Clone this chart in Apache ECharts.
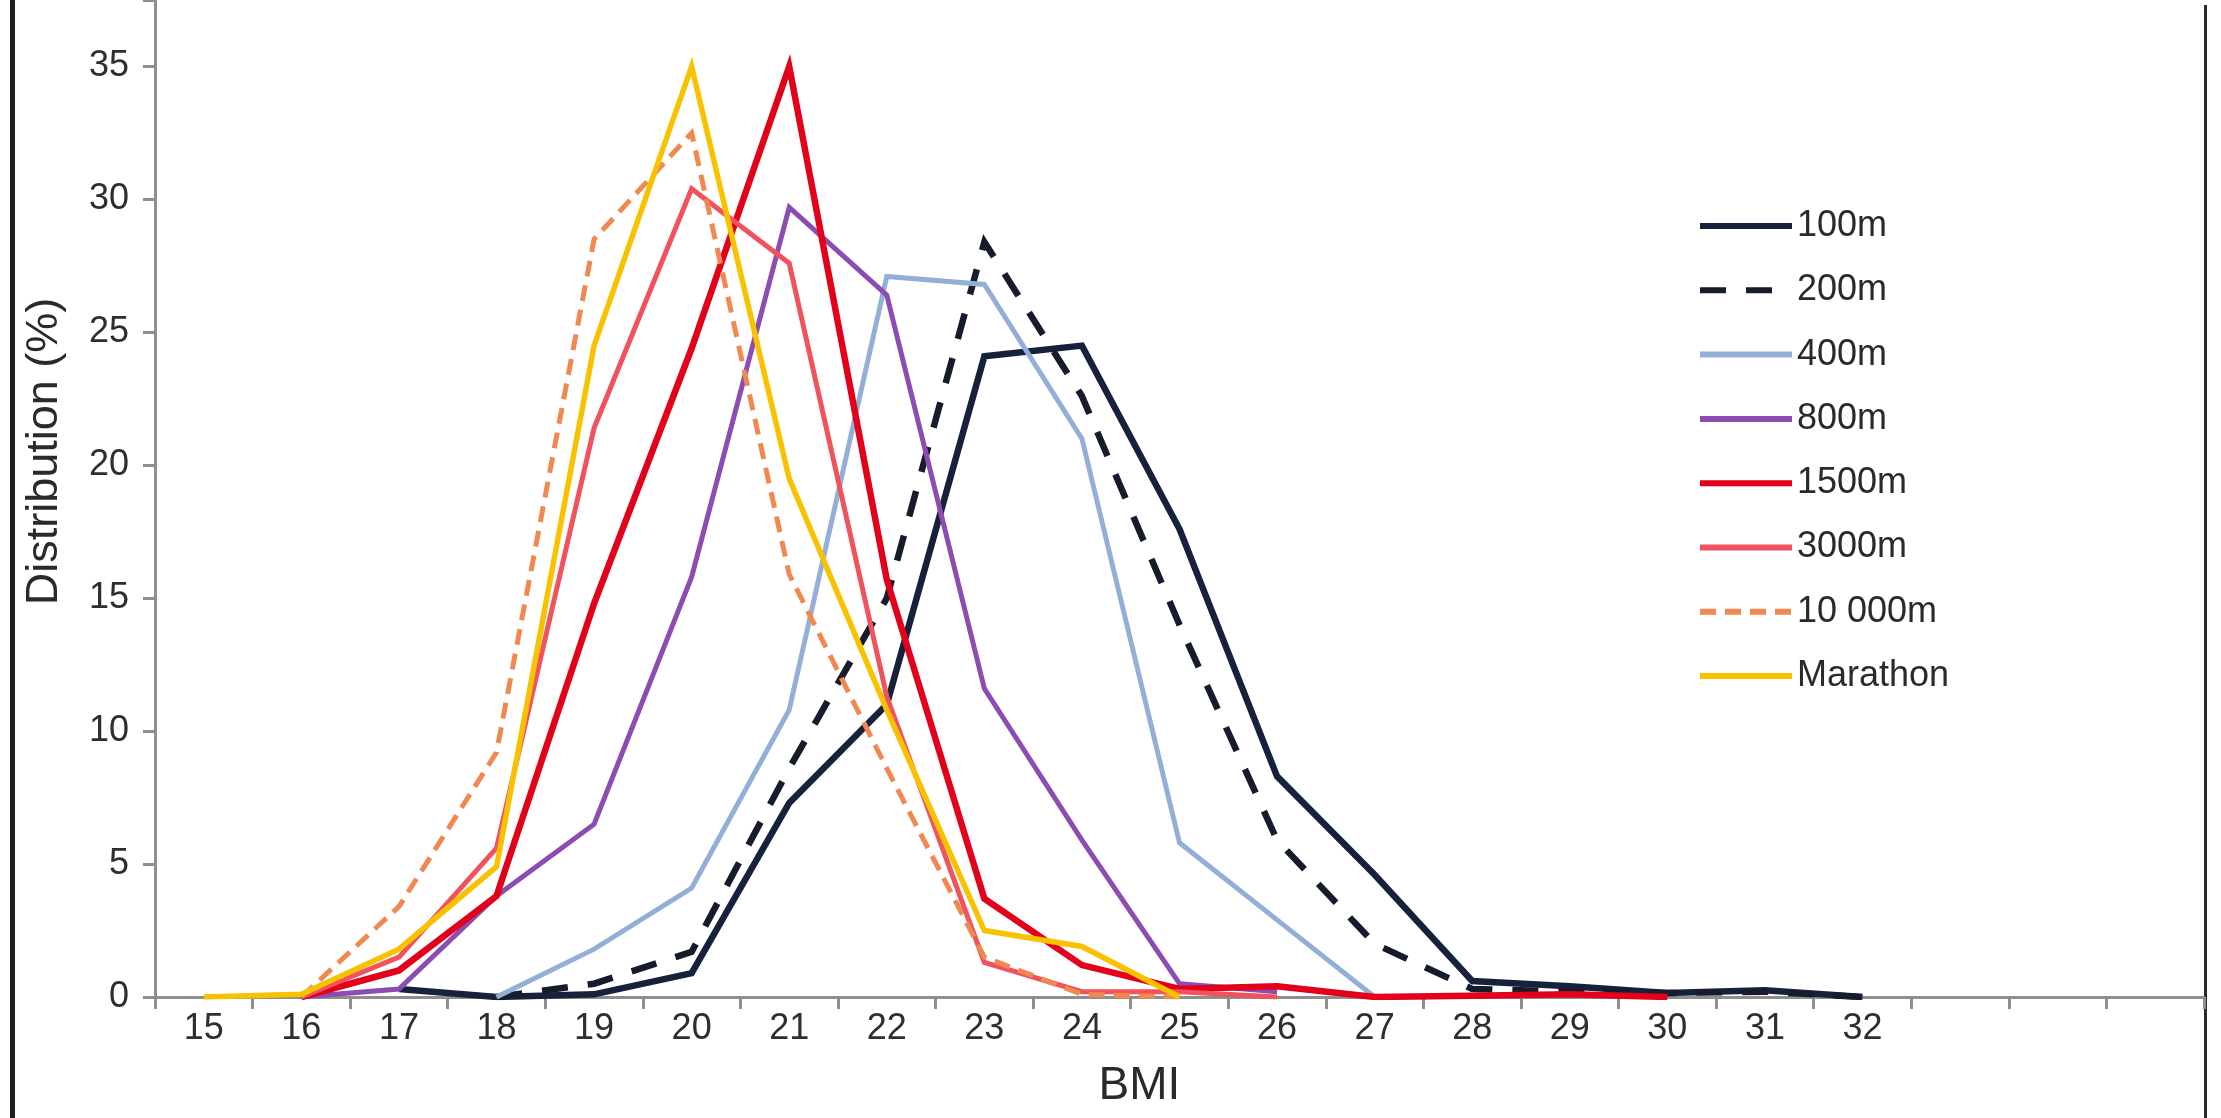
<!DOCTYPE html>
<html>
<head>
<meta charset="utf-8">
<title>BMI distribution by event</title>
<script src="https://cdn.jsdelivr.net/npm/echarts@6/dist/echarts.min.js"></script>
<style>
  html, body { margin: 0; padding: 0; background: #fff; }
  #main { width: 2221px; height: 1118px; }
</style>
</head>
<body>
<div id="main"></div>
<script>
// BMI categories (axis runs on to 35, only 15-32 are labelled)
const bmi = ['15', '16', '17', '18', '19', '20', '21', '22', '23', '24', '25', '26', '27', '28', '29', '30', '31', '32', '33', '34', '35'];
const bmiTickLabels = ['15', '16', '17', '18', '19', '20', '21', '22', '23', '24', '25', '26', '27', '28', '29', '30', '31', '32'];
const yTicks = [0, 5, 10, 15, 20, 25, 30, 35];

// distribution (%) per BMI, null where the event has no line
const m100 = [null, null, 0.3, 0, 0.1, 0.9, 7.3, 11, 24.1, 24.5, 17.6, 8.3, 4.6, 0.6, 0.4, 0.15, 0.25, 0, null, null, null];
const m200 = [null, null, null, 0, 0.5, 1.7, 8.6, 15, 28.4, 22.6, 14, 5.9, 2, 0.3, 0.2, 0.15, 0.2, 0, null, null, null];
const m400 = [null, null, null, 0, 1.8, 4.1, 10.8, 27.1, 26.8, 21, 5.8, 2.9, 0, null, null, null, null, null, null, null, null];
const m800 = [null, 0, 0.3, 3.8, 6.5, 15.8, 29.7, 26.4, 11.6, 5.9, 0.5, 0.2, null, null, null, null, null, null, null, null, null];
const m1500 = [null, 0, 1.0, 3.8, 14.8, 24.4, 35, 15.7, 3.7, 1.2, 0.3, 0.4, 0, 0.05, 0.1, 0, null, null, null, null, null];
const m3000 = [null, 0, 1.5, 5.6, 21.4, 30.4, 27.6, 11.3, 1.3, 0.2, 0.2, 0, null, null, null, null, null, null, null, null, null];
const m10000 = [null, 0, 3.4, 9.2, 28.5, 32.5, 15.9, 8.6, 1.5, 0.1, 0, null, null, null, null, null, null, null, null, null, null];
const marathon = [0, 0.1, 1.8, 4.9, 24.5, 35, 19.5, 10.8, 2.5, 1.9, 0, null, null, null, null, null, null, null, null, null, null];

const font = '"Liberation Sans", Arial, Helvetica, sans-serif';

const line = (name, data, color, width, type) => ({
  name: name,
  type: 'line',
  data: data,
  symbol: 'none',
  lineStyle: { color: color, width: width, type: type || 'solid', cap: 'butt', join: 'miter' },
  itemStyle: { color: color },
  emphasis: { disabled: true },
  animation: false
});

const myChart = echarts.init(document.getElementById('main'));

const option = {
  backgroundColor: '#ffffff',
  animation: false,
  grid: { left: 155, right: 17, top: 0, bottom: 121 },
  legend: {
    orient: 'vertical',
    left: 1697,
    top: 206,
    itemWidth: 92,
    itemHeight: 20,
    itemGap: 24.3,
    padding: 0,
    selectedMode: false,
    itemStyle: { opacity: 0 },
    lineStyle: { width: 6 },
    textStyle: { fontFamily: font, fontSize: 36, color: '#2a2a2a', padding: [0, 0, 0, 0], lineHeight: 40 },
    data: ['100m', '200m', '400m', '800m', '1500m', '3000m', '10 000m', 'Marathon']
  },
  xAxis: {
    type: 'category',
    data: bmi,
    boundaryGap: true,
    name: 'BMI',
    nameLocation: 'middle',
    nameGap: 66,
    nameTextStyle: { fontFamily: font, fontSize: 46, color: '#2a2a2a', padding: [0, 80, 0, 0] },
    axisLine: { lineStyle: { color: '#8e8e8e', width: 3 } },
    axisTick: { show: true, interval: 0, length: 12, lineStyle: { color: '#8e8e8e', width: 3 } },
    axisLabel: {
      interval: 0,
      margin: 14,
      fontFamily: font,
      fontSize: 36,
      color: '#2e2e2e',
      formatter: (v, i) => bmiTickLabels[i] || ''
    },
    splitLine: { show: false }
  },
  yAxis: {
    type: 'value',
    min: yTicks[0],
    max: 37.5,
    interval: 5,
    name: 'Distribution (%)',
    nameLocation: 'middle',
    nameGap: 88,
    nameTextStyle: { fontFamily: font, fontSize: 45, color: '#2a2a2a', padding: [0, 0, 0, 94] },
    axisLine: { show: true, lineStyle: { color: '#8e8e8e', width: 3 } },
    axisTick: { show: true, length: 12, lineStyle: { color: '#8e8e8e', width: 3 } },
    axisLabel: {
      margin: 26,
      fontFamily: font,
      fontSize: 36,
      color: '#2e2e2e',
      formatter: (v) => (yTicks.indexOf(v) >= 0 ? String(v) : '')
    },
    splitLine: { show: false }
  },
  graphic: [
    { type: 'rect', shape: { x: 10, y: 0, width: 5, height: 1118 }, style: { fill: '#1e1e1e' }, silent: true },
    { type: 'rect', shape: { x: 2204, y: 5, width: 3, height: 1113 }, style: { fill: '#2a2a2a' }, silent: true }
  ],
  series: [
    line('100m', m100, '#16213b', 6.5),
    line('200m', m200, '#161c2c', 6.5, [26, 20]),
    line('400m', m400, '#93afd8', 5),
    line('800m', m800, '#8c4cb2', 5),
    line('1500m', m1500, '#e2001a', 6.5),
    line('3000m', m3000, '#f0525e', 5),
    line('10 000m', m10000, '#f08850', 5, [16, 9]),
    line('Marathon', marathon, '#f8c200', 5.5)
  ]
};

myChart.setOption(option);
</script>
</body>
</html>
